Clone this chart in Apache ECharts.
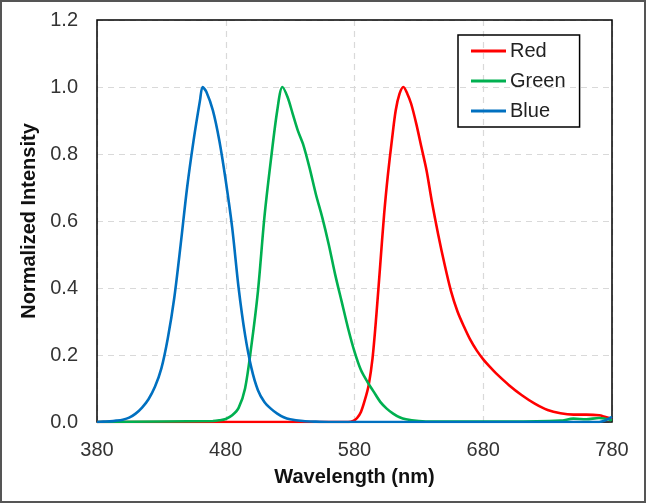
<!DOCTYPE html>
<html>
<head>
<meta charset="utf-8">
<script src="https://cdn.jsdelivr.net/npm/echarts@6/dist/echarts.min.js"></script>
<style>
html,body{margin:0;padding:0;background:#fff;}
#chart{width:646px;height:503px;}
</style>
</head>
<body>
<div id="chart"></div>
<script>
// wavelength (nm) / normalized intensity
var redNm  = [380, 575, 579, 582, 585, 588, 591, 594, 597, 600, 603, 606, 609, 612, 615, 618, 621, 624, 628, 632, 636, 640, 645, 650, 655, 660, 665, 670, 675, 680, 685, 690, 700, 710, 720, 730, 740, 750, 760, 770, 775, 780];
var redVal = [0, 0, 0.003, 0.012, 0.03, 0.065, 0.11, 0.19, 0.32, 0.47, 0.62, 0.74, 0.84, 0.93, 0.98, 1.0, 0.98, 0.95, 0.89, 0.82, 0.75, 0.66, 0.56, 0.47, 0.39, 0.33, 0.285, 0.245, 0.213, 0.187, 0.165, 0.145, 0.11, 0.08, 0.055, 0.036, 0.026, 0.022, 0.022, 0.02, 0.015, 0.01];

var greenNm  = [380, 470, 475, 480, 485, 490, 495, 500, 505, 510, 515, 520, 524, 528, 532, 536, 540, 545, 550, 555, 560, 565, 570, 575, 580, 585, 590, 595, 600, 605, 610, 615, 620, 630, 640, 700, 740, 750, 760, 770, 780];
var greenVal = [0, 0.003, 0.005, 0.009, 0.02, 0.042, 0.1, 0.23, 0.39, 0.61, 0.78, 0.93, 1.0, 0.97, 0.92, 0.87, 0.83, 0.76, 0.68, 0.61, 0.53, 0.44, 0.36, 0.28, 0.21, 0.155, 0.12, 0.09, 0.06, 0.04, 0.025, 0.014, 0.008, 0.003, 0.001, 0.001, 0.004, 0.01, 0.008, 0.012, 0.005];

var blueNm  = [380, 385, 390, 395, 400, 405, 410, 415, 420, 425, 430, 435, 440, 445, 450, 455, 460, 462, 465, 470, 475, 480, 485, 490, 495, 500, 505, 510, 515, 520, 525, 530, 540, 550, 560, 770, 780];
var blueVal = [0, 0.001, 0.002, 0.004, 0.007, 0.013, 0.025, 0.043, 0.068, 0.105, 0.16, 0.25, 0.37, 0.53, 0.7, 0.84, 0.96, 1.0, 0.985, 0.93, 0.84, 0.72, 0.58, 0.4, 0.26, 0.16, 0.095, 0.06, 0.04, 0.025, 0.014, 0.008, 0.003, 0.001, 0, 0, 0.015];

var xTicks = [380, 480, 580, 680, 780];
var yTicks = [0, 0.2, 0.4, 0.6, 0.8, 1.0, 1.2];

function pairs(xs, ys){
    var out = [];
    for (var i = 0; i < xs.length; i++) {
        out.push([xs[i], ys[i]]);
    }
    return out;
}

var colors = ['#ff0000', '#00b050', '#0070c0'];
var font = 'Liberation Sans, Arial, sans-serif';

function lineSeries(name, data, color){
    return {
        name: name,
        type: 'line',
        data: data,
        symbol: 'none',
        smooth: 0.3,
        lineStyle: { color: color, width: 2.6 },
        itemStyle: { color: color }
    };
}

var chart = echarts.init(document.getElementById('chart'));

var option = {
    animation: false,
    backgroundColor: '#fff',
    grid: { left: 97, right: 34, top: 20, bottom: 81 },
    graphic: [{
        type: 'rect',
        shape: { x: 1, y: 1, width: 644, height: 501 },
        style: { fill: 'none', stroke: '#555', lineWidth: 2 },
        silent: true
    }, {
        // plot frame, drawn over the grid lines
        type: 'rect',
        shape: { x: 97, y: 20, width: 515, height: 402 },
        style: { fill: 'none', stroke: '#000', lineWidth: 1.5 },
        z: 1,
        silent: true
    }],
    legend: {
        orient: 'vertical',
        left: 458, top: 35,
        padding: [6, 14, 6, 13],
        borderColor: '#000', borderWidth: 1.5,
        icon: 'rect',
        itemWidth: 35, itemHeight: 3, itemGap: 10,
        textStyle: { fontFamily: font, fontSize: 20, color: '#222', padding: [0, 0, 0, -1] },
        data: ['Red', 'Green', 'Blue']
    },
    xAxis: {
        type: 'value',
        min: xTicks[0], max: xTicks[xTicks.length - 1], interval: 100,
        name: 'Wavelength (nm)',
        nameLocation: 'middle', nameGap: 45,
        nameTextStyle: { fontFamily: font, fontSize: 20, fontWeight: 'bold', color: '#111' },
        axisLine: { show: false },
        axisTick: { show: false },
        axisLabel: { fontFamily: font, fontSize: 20, color: '#333', margin: 18 },
        splitLine: { show: true, lineStyle: { color: '#d9d9d9', type: [6, 5], width: 1.2 } }
    },
    yAxis: {
        type: 'value',
        min: yTicks[0], max: yTicks[yTicks.length - 1], interval: 0.2,
        name: 'Normalized Intensity',
        nameLocation: 'middle', nameGap: 49,
        nameTextStyle: { fontFamily: font, fontSize: 20, fontWeight: 'bold', color: '#111' },
        axisLine: { show: false },
        axisTick: { show: false },
        axisLabel: {
            fontFamily: font, fontSize: 20, color: '#333', margin: 19,
            formatter: function(v){ return v.toFixed(1); }
        },
        splitLine: { show: true, lineStyle: { color: '#d9d9d9', type: [6, 5], width: 1.2 } }
    },
    series: [
        lineSeries('Red', pairs(redNm, redVal), colors[0]),
        lineSeries('Green', pairs(greenNm, greenVal), colors[1]),
        lineSeries('Blue', pairs(blueNm, blueVal), colors[2])
    ]
};

chart.setOption(option);
</script>
</body>
</html>
